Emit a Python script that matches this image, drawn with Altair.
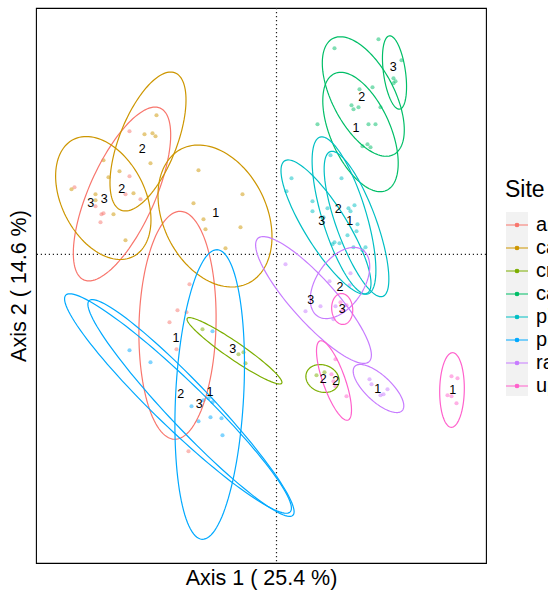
import numpy as np
import pandas as pd
import altair as alt

# Sites in legend order and their ggplot-style hue colours
SITES = ["arroyo", "canyon", "creek", "cascade", "pine", "prairie", "ravine", "upland"]
COLORS = ["#F8766D", "#CD9600", "#7CAE00", "#00BE67", "#00BFC4", "#00A9FF", "#C77CFF", "#FF61CC"]

# Sample scores on Axis 1 / Axis 2, one pair of lists per site
arroyo_x = [-2.02, -1.47, -1.47, -1.51, -1.36, -1.81, -1.75, -1.73, -1.76, -0.87, -0.99, -0.90, -1.07, -1.00, -0.88]
arroyo_y = [0.67, 1.23, 0.78, 0.60, 0.55, 0.48, 0.40, 0.41, 0.32, -0.30, -0.56, -0.58, -0.68, -0.95, -1.97]
canyon_x = [-2.05, -1.20, -1.32, -1.24, -1.21, -1.26, -1.73, -1.57, -1.68, -1.81, -1.43, -1.81, -1.63, -1.51,
            -0.78, -0.34, -0.83, -0.73, -0.71, -0.36, -0.51]
canyon_y = [0.65, 1.39, 1.20, 1.21, 1.18, 0.91, 0.94, 0.83, 0.77, 0.60, 0.61, 0.54, 0.40, 0.14,
            0.84, 0.60, 0.51, 0.35, 0.25, 0.27, 0.06]
creek_x = [-0.74, -0.38, -0.33, -0.31, 0.40, 0.48]
creek_y = [-0.75, -1.00, -0.98, -1.09, -1.21, -1.18]
cascade_x = [1.02, 0.58, 1.25, 1.17, 1.19, 1.17, 0.83, 0.96, 0.75, 0.77, 0.82, 1.04, 0.41, 0.92, 0.99, 0.86, 0.91, 0.94]
cascade_y = [2.15, 2.06, 1.94, 1.76, 1.73, 1.71, 1.65, 1.67, 1.49, 1.45, 1.47, 1.47, 1.30, 1.30, 1.30, 1.08, 1.10, 1.07]
pine_x = [0.15, 0.10, 0.65, 0.54, 0.36, 0.36, 0.51, 0.47, 0.78, 0.72, 0.74, 0.81, 0.80, 0.71, 0.58, 0.56, 0.63, 0.77, 0.89, 0.86]
pine_y = [0.76, 0.63, 0.76, 0.99, 0.53, 0.43, 0.46, 0.37, 0.49, 0.46, 0.43, 0.30, 0.23, 0.19, 0.12, 0.10, 0.11, 0.07, 0.07, 0.04]
prairie_x = [-1.47, -1.26, -0.64, -0.85, -0.73, -0.68, -0.64, -0.78, -0.66, -0.55, -0.54]
prairie_y = [-0.96, -1.08, -0.77, -1.52, -1.46, -1.44, -1.48, -1.67, -1.63, -1.64, -1.81]
ravine_x = [0.09, 0.53, 0.74, 0.73, 0.44, 0.29, 0.59, 0.57, 0.93, 0.95, 1.11, 1.04, 1.07]
ravine_y = [-0.10, -0.27, -0.19, -0.31, -0.52, -0.57, -0.52, -0.65, -1.25, -1.30, -1.35, -1.41, -1.40]
upland_x = [0.64, 0.66, 0.70, 0.59, 0.55, 0.57, 0.59, 0.70, 1.75, 1.81, 1.71, 1.75, 1.80]
upland_y = [-0.48, -0.56, -0.51, -1.05, -1.20, -1.27, -1.32, -1.42, -1.22, -1.24, -1.41, -1.42, -1.49]

# Confidence ellipses per site/group: centre, semi-axes and rotation (degrees)
ell_site = ["arroyo", "arroyo", "canyon", "canyon", "canyon", "creek", "creek",
            "cascade", "cascade", "cascade", "pine", "pine", "pine",
            "prairie", "prairie", "prairie", "ravine", "ravine", "ravine",
            "upland", "upland", "upland"]
ell_group = ["2", "1", "3", "2", "1", "3", "2",
             "2", "1", "3", "3", "2", "1",
             "1", "2", "3", "3", "2", "1",
             "3", "2", "1"]
ell_cx = [-1.545, -0.99, -1.732, -1.285, -0.615, -0.42, 0.46,
          0.868, 0.84, 1.18, 0.495, 0.675, 0.80,
          -0.668, -0.985, -0.855, 0.37, 0.635, 1.02,
          0.657, 0.575, 1.755]
ell_cy = [0.603, -0.71, 0.563, 1.128, 0.383, -0.965, -1.242,
          1.578, 1.223, 1.818, 0.273, 0.388, 0.303,
          -1.402, -1.492, -1.537, -0.457, -0.287, -1.342,
          -0.547, -1.262, -1.357]
ell_a = [0.94, 1.14, 0.657, 0.738, 0.75, 0.573, 0.17,
         0.655, 0.639, 0.37, 0.78, 0.82, 0.77,
         1.45, 1.56, 1.48, 0.83, 0.40, 0.324,
         0.155, 0.42, 0.373]
ell_b = [0.33, 0.385, 0.417, 0.287, 0.516, 0.085, 0.135,
         0.31, 0.30, 0.11, 0.21, 0.22, 0.20,
         0.34, 0.24, 0.22, 0.22, 0.235, 0.13,
         0.105, 0.111, 0.123]
ell_angle = [66, 88.5, -62.9, 68.5, -63.6, -34.5, -20,
             -62.3, -66.1, -82, -58, -73, -70,
             87, -44, -46.5, -48, 55.7, -43,
             -85, -70.5, 89]

# Group labels placed at group centroids
lab_site = ["arroyo", "arroyo", "arroyo", "canyon", "canyon", "canyon", "creek", "creek",
            "cascade", "cascade", "cascade", "pine", "pine", "pine",
            "prairie", "prairie", "prairie", "ravine", "ravine", "ravine",
            "upland", "upland", "upland"]
lab_group = ["1", "2", "3", "1", "2", "3", "2", "3",
             "1", "2", "3", "1", "2", "3",
             "1", "2", "3", "1", "2", "3",
             "1", "2", "3"]
lab_x = [-1.005, -1.548, -1.858, -0.608, -1.342, -1.722, 0.468, -0.438,
         0.795, 0.852, 1.168, 0.732, 0.618, 0.452,
         -0.665, -0.958, -0.772, 1.012, 0.635, 0.342,
         1.762, 0.592, 0.658]
lab_y = [-0.834, 0.650, 0.516, 0.410, 1.053, 0.556, -1.247, -0.944,
         1.266, 1.576, 1.870, 0.336, 0.456, 0.336,
         -1.374, -1.397, -1.500, -1.344, -0.324, -0.457,
         -1.357, -1.264, -0.547]

AXIS1_TITLE = "Axis 1 ( 25.4 %)"
AXIS2_TITLE = "Axis 2 ( 14.6 %)"
FONT = "Liberation Sans"

# ---- tables -------------------------------------------------------------
coords = {
    "arroyo": (arroyo_x, arroyo_y), "canyon": (canyon_x, canyon_y),
    "creek": (creek_x, creek_y), "cascade": (cascade_x, cascade_y),
    "pine": (pine_x, pine_y), "prairie": (prairie_x, prairie_y),
    "ravine": (ravine_x, ravine_y), "upland": (upland_x, upland_y),
}
points = pd.concat(
    [pd.DataFrame({"site": s, "x": xs, "y": ys}) for s, (xs, ys) in coords.items()],
    ignore_index=True,
)

t = np.linspace(0, 2 * np.pi, 121)
rows = []
for s, g, cx, cy, a, b, ang in zip(ell_site, ell_group, ell_cx, ell_cy, ell_a, ell_b, ell_angle):
    th = np.deg2rad(ang)
    ex = cx + a * np.cos(t) * np.cos(th) - b * np.sin(t) * np.sin(th)
    ey = cy + a * np.cos(t) * np.sin(th) + b * np.sin(t) * np.cos(th)
    for k in range(len(t)):
        rows.append({"site": s, "id": f"{s}-{g}", "k": k, "x": ex[k], "y": ey[k]})
ellipses = pd.DataFrame(rows)

labels = pd.DataFrame({"site": lab_site, "group": lab_group, "x": lab_x, "y": lab_y})

# ---- encodings ----------------------------------------------------------
x_scale = alt.Scale(domain=[-2.405, 2.095], nice=False, zero=False)
y_scale = alt.Scale(domain=[-3.087, 2.463], nice=False, zero=False)
site_scale = alt.Scale(domain=SITES, range=COLORS)

KEY_PATH = ("M-1,0H1M0.16,0A0.16,0.16,0,1,1,-0.16,0"
            "A0.16,0.16,0,1,1,0.16,0Z")
legend = alt.Legend(
    title="Site", orient="none", legendX=469, legendY=171,
    symbolType=KEY_PATH, symbolSize=484, symbolStrokeWidth=1.2,
    titleFont=FONT, titleFontSize=23, titleFontWeight="normal", titleColor="black",
    labelFont=FONT, labelFontSize=20, labelColor="black", labelOffset=7, labelLimit=400,
    rowPadding=1, titlePadding=11, padding=0,
)

x_enc = alt.X("x:Q", scale=x_scale,
              axis=alt.Axis(title=AXIS1_TITLE, labels=False, ticks=False, domain=False, grid=False,
                            titleFont=FONT, titleFontSize=21.5, titleFontWeight="normal",
                            titleColor="black", titlePadding=4))
y_enc = alt.Y("y:Q", scale=y_scale,
              axis=alt.Axis(title=AXIS2_TITLE, labels=False, ticks=False, domain=False, grid=False,
                            titleFont=FONT, titleFontSize=21.5, titleFontWeight="normal",
                            titleColor="black", titlePadding=6))

# grey band behind the legend keys
key_band = alt.Chart(pd.DataFrame({"k": [0]})).mark_rect(color="#F2F2F2").encode(
    x=alt.value(470), x2=alt.value(492), y=alt.value(204), y2=alt.value(388)
)

zero_v = alt.Chart(pd.DataFrame({"x": [0.0]})).mark_rule(
    color="#222222", strokeWidth=1.2, strokeDash=[1.2, 2.8]
).encode(x=alt.X("x:Q", scale=x_scale))
zero_h = alt.Chart(pd.DataFrame({"y": [0.0]})).mark_rule(
    color="#222222", strokeWidth=1.2, strokeDash=[1.2, 2.8]
).encode(y=alt.Y("y:Q", scale=y_scale))

pts = alt.Chart(points).mark_point(filled=True, size=17, fillOpacity=0.5, strokeWidth=0).encode(
    x=x_enc, y=y_enc,
    fill=alt.Fill("site:N", scale=site_scale, legend=legend),
)

ells = alt.Chart(ellipses).mark_line(strokeWidth=1.2).encode(
    x="x:Q", y="y:Q",
    stroke=alt.Stroke("site:N", scale=site_scale, legend=legend),
    detail="id:N",
    order="k:Q",
)

txt = alt.Chart(labels).mark_text(
    font=FONT, fontSize=12.5, color="black", align="center", baseline="middle"
).encode(x="x:Q", y="y:Q", text="group:N")

chart = alt.layer(key_band, zero_v, zero_h, pts, ells, txt).properties(
    width=450, height=555,
    autosize=alt.AutoSizeParams(type="none"),
    padding={"left": 36, "top": 8, "right": 62, "bottom": 28},
    background="white",
).configure_view(stroke="black", strokeWidth=1.1)

chart.save("out.html", embed_options={"renderer": "svg", "actions": False})
